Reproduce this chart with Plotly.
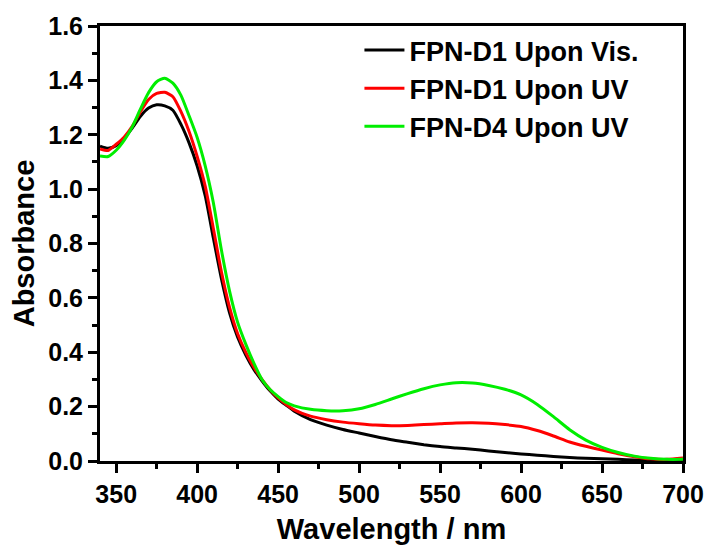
import plotly.graph_objects as go

wavelength = [340, 345, 350, 355, 360, 365, 370, 375, 380, 385, 390, 395, 400, 405, 410,
              415, 420, 425, 430, 435, 440, 445, 450, 455, 460, 470, 480, 490, 500, 510,
              520, 530, 540, 550, 560, 570, 580, 590, 600, 610, 620, 630, 640, 650, 660,
              670, 680, 690, 700]

d1_vis = [1.158, 1.150, 1.160, 1.188, 1.225, 1.268, 1.298, 1.310, 1.306, 1.290, 1.238, 1.170,
          1.085, 0.975, 0.820, 0.670, 0.545, 0.455, 0.390, 0.337, 0.295, 0.258, 0.228, 0.205,
          0.183, 0.152, 0.132, 0.116, 0.103, 0.090, 0.078, 0.069, 0.060, 0.053, 0.048, 0.043,
          0.037, 0.031, 0.026, 0.021, 0.017, 0.013, 0.010, 0.008, 0.006, 0.004, 0.002, 0.001,
          0.000]

d1_uv = [1.148, 1.142, 1.165, 1.192, 1.232, 1.285, 1.330, 1.352, 1.356, 1.340, 1.285, 1.212,
         1.120, 1.010, 0.855, 0.695, 0.565, 0.468, 0.400, 0.345, 0.300, 0.262, 0.232, 0.208,
         0.188, 0.165, 0.152, 0.143, 0.137, 0.132, 0.130, 0.131, 0.134, 0.137, 0.140, 0.141,
         0.139, 0.134, 0.127, 0.112, 0.092, 0.070, 0.054, 0.040, 0.027, 0.016, 0.008, 0.006,
         0.011]

d4_uv = [1.122, 1.120, 1.143, 1.180, 1.230, 1.295, 1.355, 1.395, 1.408, 1.390, 1.345, 1.270,
         1.190, 1.085, 0.950, 0.775, 0.625, 0.510, 0.430, 0.360, 0.300, 0.263, 0.237, 0.215,
         0.203, 0.190, 0.185, 0.185, 0.192, 0.208, 0.228, 0.248, 0.266, 0.280, 0.288, 0.287,
         0.278, 0.264, 0.243, 0.208, 0.163, 0.115, 0.077, 0.050, 0.031, 0.018, 0.010, 0.006,
         0.006]

series_names = ["FPN-D1 Upon Vis.", "FPN-D1 Upon UV", "FPN-D4 Upon UV"]
series_values = [d1_vis, d1_uv, d4_uv]
series_colors = ["#000000", "#ff0000", "#00ee00"]

x_ticks = [350, 400, 450, 500, 550, 600, 650, 700]
y_ticks = [0.0, 0.2, 0.4, 0.6, 0.8, 1.0, 1.2, 1.4, 1.6]

FONT = "Liberation Sans, Arial, sans-serif"

fig = go.Figure()
for name, vals, col in zip(series_names, series_values, series_colors):
    fig.add_trace(go.Scatter(x=wavelength, y=vals, name=name, mode="lines",
                             line=dict(color=col, width=3, shape="spline", smoothing=0.6)))

axis_common = dict(showline=True, linecolor="black", linewidth=3, mirror=True,
                   ticks="outside", ticklen=9, tickwidth=3, tickcolor="black",
                   showgrid=False, zeroline=False, automargin=False,
                   tickfont=dict(family=FONT, size=25, color="black", weight="bold"))

fig.update_xaxes(range=[340, 700], tickvals=x_ticks,
                 ticktext=[str(v) for v in x_ticks],
                 minor=dict(ticks="outside", ticklen=5, tickwidth=2.5, tickcolor="black", dtick=25, tick0=325),
                 title=dict(text="<b>Wavelength / nm</b>", font=dict(family=FONT, size=29, color="black"), standoff=12),
                 **axis_common)
fig.update_yaxes(range=[0, 1.6], tickvals=y_ticks,
                 ticktext=[f"{v:.1f}" for v in y_ticks],
                 minor=dict(ticks="outside", ticklen=5, tickwidth=2.5, tickcolor="black", dtick=0.1, tick0=0),
                 title=dict(text="<b>Absorbance</b>", font=dict(family=FONT, size=29, color="black"), standoff=6),
                 **axis_common)

fig.update_layout(
    width=710, height=545,
    margin=dict(l=100, r=27, t=26, b=84),
    paper_bgcolor="white", plot_bgcolor="white",
    font=dict(family=FONT, color="black"),
    legend=dict(x=0.445, y=1.0, xanchor="left", yanchor="top",
                bgcolor="rgba(0,0,0,0)", borderwidth=0,
                font=dict(family=FONT, size=27, color="black", weight="bold"),
                tracegroupgap=0, itemwidth=40),
)

fig.write_html("out.html")
